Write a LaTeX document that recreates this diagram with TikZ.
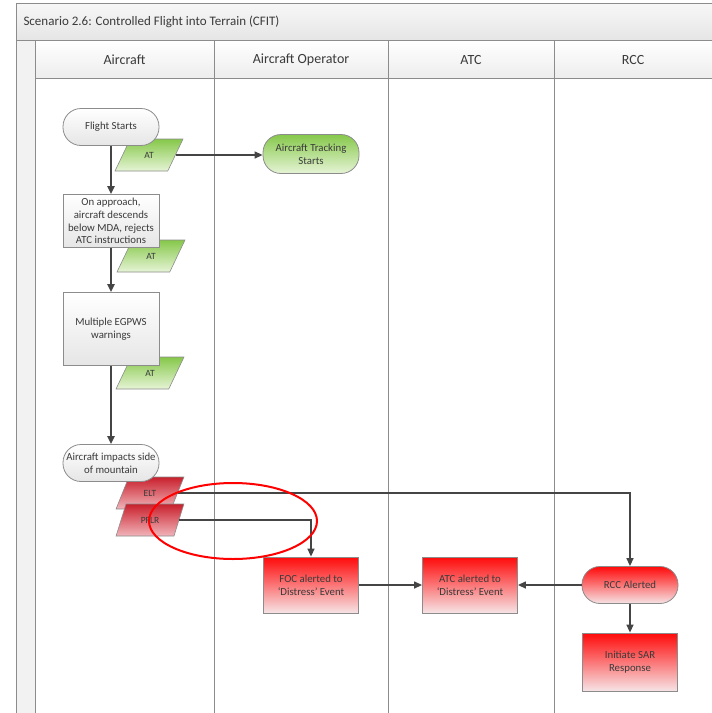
\documentclass[tikz,border=0pt]{standalone}
\usepackage{fontspec}
\setmainfont{Carlito}
\usetikzlibrary{shapes.geometric}
\usetikzlibrary{arrows.meta}
\usepackage{xcolor}

\definecolor{framegray}{HTML}{8C8C8C}
\definecolor{linegray}{HTML}{454545}
\definecolor{textgray}{HTML}{3A3A3A}
\definecolor{atgreen}{HTML}{86C84A}
\definecolor{atgreenlt}{HTML}{E6F4D6}
\definecolor{boxred}{HTML}{FF0A0A}
\definecolor{boxredlt}{HTML}{F6E4E6}
\definecolor{darkred}{HTML}{C8202C}
\definecolor{darkredlt}{HTML}{F2B4BA}

\begin{document}
\begin{tikzpicture}[x=1pt, y=-1pt]
        % ================= styles =================
        \tikzset{
            % swimlane frame
            lane/.style={framegray, line width=1pt},
            % process box
            procbox/.style={rectangle, draw=framegray, line width=0.8pt, minimum width=96pt, inner sep=2pt,
                align=center, text=textgray, font=\fontsize{10.8}{12.7}\selectfont},
            % start / end terminal
            termbox/.style={procbox, rounded corners=18pt, minimum height=37pt},
            % data parallelogram
            databox/.style={trapezium, trapezium left angle=58, trapezium right angle=122, trapezium stretches=true,
                draw=framegray, line width=0.6pt, minimum width=68pt, minimum height=32pt, inner sep=0pt,
                text=textgray, font=\fontsize{9.5}{11}\selectfont},
            greyfill/.style={top color=white, bottom color=black!10},
            greenfill/.style={top color=atgreen, bottom color=atgreenlt},
            redfill/.style={top color=boxred, bottom color=boxredlt},
            darkredfill/.style={top color=darkred, bottom color=darkredlt},
            flow/.style={linegray, line width=1.3pt, -{Triangle[length=8pt, width=7pt]}},
            flowthick/.style={flow, line width=2pt}
        }
        \useasboundingbox (0,0) rectangle (712,713);

        % ================= frame and lanes =================
        \fill[top color=black!3, bottom color=black!10] (16,3) rectangle (712,40);
        \fill[black!5] (16,40) rectangle (35,713);
        \fill[top color=white, bottom color=black!7] (35,40) rectangle (712,78);
        \draw[lane] (712,3) -- (16,3) -- (16,713);
        \draw[lane] (16,40) -- (712,40);
        \draw[lane] (35,78) -- (712,78);
        \foreach \xpos in {35, 214, 388, 554} {
            \draw[lane] (\xpos,40) -- (\xpos,713);
        }
        \node[anchor=west, text=textgray, font=\fontsize{13}{15}\selectfont] (title) at (20,22)
            {Scenario 2.6: Controlled Flight into Terrain (CFIT)};
        \node[text=textgray, font=\fontsize{14}{16}\selectfont] (hac) at (124.5,60) {Aircraft};
        \node[text=textgray, font=\fontsize{14}{16}\selectfont] (hop) at (301,60) {Aircraft Operator};
        \node[text=textgray, font=\fontsize{14}{16}\selectfont] (hatc) at (471,60) {ATC};
        \node[text=textgray, font=\fontsize{14}{16}\selectfont] (hrcc) at (633,60) {RCC};

        % ================= Aircraft lane =================
        % data blocks sit behind the boxes
        \node[databox, greenfill] (at1) at (149,155) {AT};
        \node[databox, greenfill] (at2) at (151,256) {AT};
        \node[databox, greenfill] (at3) at (150,373) {AT};
        \node[databox, darkredfill] (elt) at (150,493) {ELT};
        \node[databox, darkredfill] (pflr) at (150,520) {PFLR};

        \node[termbox, greyfill] (start) at (111,127) {Flight Starts};
        \node[procbox, greyfill, minimum height=53pt, inner sep=1pt] (descend) at (111,221)
            {On approach,\\aircraft descends\\below MDA, rejects\\ATC instructions};
        \node[procbox, greyfill, minimum height=73pt] (egpws) at (111,329) {Multiple EGPWS\\warnings};
        \node[termbox, greyfill] (impact) at (111,463) {Aircraft impacts side\\of mountain};

        \draw[flowthick] (start) -- (descend);
        \draw[flowthick] (descend) -- (egpws);
        \draw[flowthick] (egpws) -- (impact);

        % ================= other lanes =================
        \node[termbox, greenfill, minimum height=39pt] (tracking) at (311,154) {Aircraft Tracking\\Starts};
        \node[procbox, redfill, minimum width=95pt, minimum height=56pt] (foc) at (311,585)
            {FOC alerted to\\`Distress' Event};
        \node[procbox, redfill, minimum width=95pt, minimum height=56pt] (atc) at (470,585)
            {ATC alerted to\\`Distress' Event};
        \node[termbox, redfill] (rcc) at (630,585) {RCC Alerted};
        \node[procbox, redfill, minimum width=95pt, minimum height=58pt] (sar) at (630,662)
            {Initiate SAR\\Response};

        % ================= connectors =================
        \draw[flow] (at1.east) -- (tracking.west |- at1.east);
        \draw[flow] (elt.east) -| (rcc.north);
        \draw[flow] (pflr.east) -| (foc.north);
        \draw[flow] (foc) -- (atc);
        \draw[flow] (rcc) -- (atc);
        \draw[flow] (rcc) -- (sar);

        % highlight ring
        \draw[red, line width=2pt] (233,521) ellipse [x radius=84, y radius=38];

    \end{tikzpicture}
\end{document}
